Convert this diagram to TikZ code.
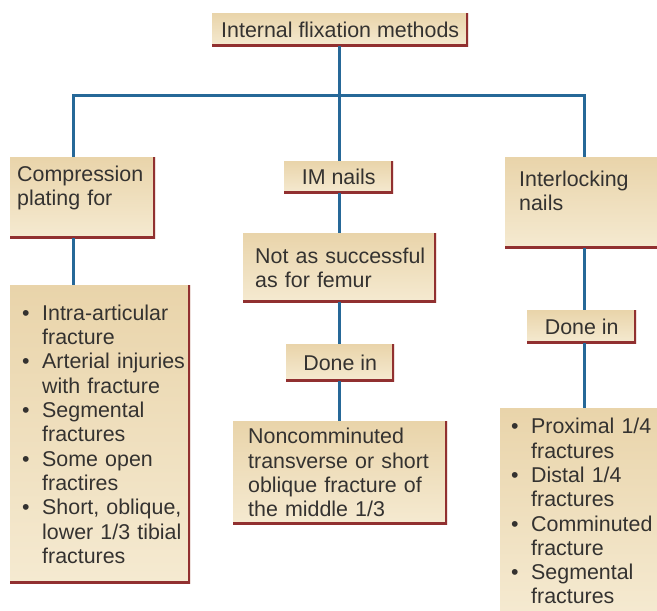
\documentclass[tikz,border=0pt]{standalone}
\usepackage{fontspec}
\setmainfont{Liberation Sans}
\definecolor{boxtop}{RGB}{233,212,170}
\definecolor{boxbot}{RGB}{245,234,209}
\definecolor{edgered}{RGB}{145,48,48}
\definecolor{linkblue}{RGB}{38,104,152}
\definecolor{inkgray}{RGB}{52,50,48}
% one bullet point with a hanging second line
\newcommand{\bpt}[1]{\hangindent=20pt\hangafter=1\makebox[20pt][l]{\textbullet}#1\par}

\begin{document}
\begin{tikzpicture}[x = 1pt, y = -1pt,
	box/.style = {anchor = north west, inner sep = 0pt, top color = boxtop, bottom color = boxbot, text = inkgray,
		font = \fontsize{21.4}{24.3}\selectfont,
		path picture = {\draw[edgered, line width = 5pt] (path picture bounding box.north east) -- (path picture bounding box.south east) -- (path picture bounding box.south west);}},
	cbox/.style = {box, align = center},
	tbox/.style = {box, align = left, execute at begin node = {\leftskip = #1}},
	link/.style = {draw = linkblue, line width = 3pt}]
	\clip (0,0) rectangle (657,611);
	\fill[white] (0,0) rectangle (657,611);
	\node[cbox, minimum width = 256, minimum height = 33] (top) at (212,13) {Internal flixation methods};
	% left branch
	\node[tbox = 7pt, text width = 145, minimum height = 81] (plating) at (10,157) {Compression\\plating for\\\mbox{}};
	\node[tbox = 12pt, text width = 180, minimum height = 298] (platelist) at (10,285) {%
		\bpt{Intra-articular\newline fracture}%
		\bpt{Arterial injuries\newline with fracture}%
		\bpt{Segmental\newline fractures}%
		\bpt{Some open\newline fractires}%
		\bpt{Short, oblique,\newline lower 1/3 tibial\newline fractures}};
	% middle branch
	\node[cbox, minimum width = 109, minimum height = 32] (imnails) at (284,161) {IM nails};
	\node[tbox = 12pt, text width = 193, minimum height = 69] (notas) at (243,233) {Not as successful\\as for femur};
	\node[cbox, minimum width = 108, minimum height = 37] (donemid) at (286,344) {Done in};
	\node[tbox = 15pt, text width = 214, minimum height = 103] (noncom) at (233,421) {Noncomminuted\\transverse or short\\oblique fracture of\\the middle 1/3};
	% right branch
	\node[tbox = 14pt, text width = 160, minimum height = 91] (interlock) at (505,157) {Interlocking\\nails\\\mbox{}};
	\node[cbox, minimum width = 109, minimum height = 33] (doneright) at (527,310) {Done in};
	\node[tbox = 11pt, text width = 170, minimum height = 206] (naillist) at (500,408) {%
		\bpt{Proximal 1/4\newline fractures}%
		\bpt{Distal 1/4\newline fractures}%
		\bpt{Comminuted\newline fracture}%
		\bpt{Segmental\newline fractures}};
	% connectors
	\coordinate (jl) at (73,95);
	\coordinate (jm) at (339,95);
	\coordinate (jr) at (584,95);
	\draw[link] (jm |- top.south) -- (jm |- imnails.north);
	\draw[link] (jl |- plating.north) -- (jl) -- (jr) -- (jr |- interlock.north);
	\draw[link] (jl |- plating.south) -- (jl |- platelist.north);
	\draw[link] (jm |- imnails.south) -- (jm |- notas.north);
	\draw[link] (jm |- notas.south) -- (jm |- donemid.north);
	\draw[link] (jm |- donemid.south) -- (jm |- noncom.north);
	\draw[link] (jr |- interlock.south) -- (jr |- doneright.north);
	\draw[link] (jr |- doneright.south) -- (jr |- naillist.north);
\end{tikzpicture}
\end{document}
